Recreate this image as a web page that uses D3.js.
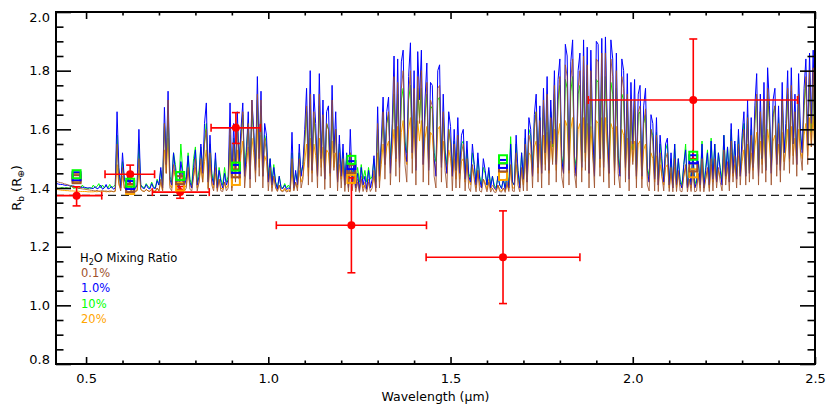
<!DOCTYPE html>
<html>
<head>
<meta charset="utf-8">
<script src="https://cdn.jsdelivr.net/npm/d3@7"></script>
<style>
  html, body { margin: 0; padding: 0; background: #fff; }
  svg { display: block; font-family: "DejaVu Sans", sans-serif; }
</style>
</head>
<body>
<svg id="chart" width="830" height="415"></svg>
<script>
// ---------------- data ----------------
// model spectra sampled on a grid starting at 0.42 µm, step 0.005 µm
const waveStart = 0.42;
const waveStep = 0.005;

const spec01 = [ // 0.1% H2O (brown)
1.422,1.42,1.418,1.417,1.414,1.413,1.41,1.409,1.406,1.405,1.402,1.401,1.399,1.398,1.397,1.396,1.395,1.394,1.393,1.392,
1.391,1.39,1.392,1.389,1.39,1.391,1.389,1.39,1.388,1.39,1.389,1.388,1.39,1.55,1.42,1.39,1.47,1.40,1.395,1.41,
1.395,1.39,1.40,1.388,1.392,1.50,1.395,1.39,1.388,1.395,1.39,1.388,1.395,1.389,1.388,1.40,1.39,1.43,1.39,1.62,
1.45,1.70,1.40,1.39,1.48,1.44,1.395,1.39,1.46,1.42,1.39,1.40,1.47,1.395,1.39,1.44,1.50,1.39,1.42,1.50,
1.42,1.55,1.60,1.395,1.52,1.41,1.39,1.47,1.388,1.43,1.39,1.388,1.42,1.39,1.40,1.60,1.39,1.55,1.42,1.62,
1.43,1.55,1.66,1.40,1.48,1.62,1.40,1.70,1.56,1.42,1.72,1.44,1.70,1.40,1.57,1.52,1.39,1.47,1.388,1.44,
1.40,1.388,1.41,1.39,1.387,1.395,1.386,1.39,1.387,1.50,1.39,1.42,1.39,1.50,1.40,1.43,1.55,1.68,1.41,1.72,
1.42,1.66,1.56,1.40,1.72,1.44,1.65,1.395,1.62,1.60,1.40,1.70,1.46,1.60,1.39,1.52,1.40,1.50,1.388,1.47,
1.387,1.52,1.39,1.44,1.387,1.42,1.385,1.43,1.388,1.41,1.386,1.42,1.388,1.40,1.46,1.387,1.62,1.40,1.52,1.66,
1.43,1.62,1.66,1.41,1.56,1.78,1.44,1.76,1.42,1.74,1.80,1.48,1.42,1.72,1.80,1.45,1.74,1.41,1.78,1.62,
1.80,1.42,1.64,1.76,1.41,1.70,1.68,1.44,1.40,1.74,1.75,1.42,1.66,1.46,1.40,1.60,1.55,1.39,1.55,1.40,
1.58,1.40,1.52,1.55,1.39,1.50,1.40,1.388,1.48,1.43,1.387,1.46,1.39,1.386,1.43,1.41,1.387,1.42,1.386,1.40,
1.386,1.385,1.41,1.388,1.386,1.40,1.385,1.42,1.388,1.48,1.39,1.388,1.52,1.41,1.387,1.47,1.39,1.55,1.39,1.58,
1.55,1.40,1.60,1.66,1.42,1.63,1.40,1.70,1.46,1.72,1.41,1.64,1.48,1.75,1.42,1.70,1.78,1.44,1.40,1.82,
1.78,1.41,1.77,1.84,1.45,1.40,1.74,1.80,1.42,1.85,1.46,1.82,1.40,1.80,1.52,1.40,1.84,1.83,1.44,1.86,
1.42,1.86,1.56,1.40,1.84,1.78,1.41,1.80,1.45,1.40,1.78,1.74,1.42,1.72,1.39,1.70,1.48,1.70,1.40,1.66,
1.68,1.40,1.62,1.67,1.41,1.39,1.60,1.56,1.39,1.58,1.388,1.52,1.44,1.39,1.50,1.52,1.388,1.47,1.387,1.50,
1.388,1.46,1.39,1.387,1.44,1.48,1.387,1.43,1.388,1.47,1.387,1.39,1.45,1.388,1.50,1.387,1.43,1.47,1.388,1.50,
1.39,1.50,1.40,1.47,1.42,1.39,1.53,1.41,1.49,1.39,1.56,1.42,1.51,1.40,1.55,1.41,1.52,1.60,1.41,1.64,
1.42,1.58,1.43,1.62,1.72,1.41,1.66,1.45,1.70,1.42,1.74,1.62,1.41,1.64,1.68,1.44,1.62,1.42,1.70,1.46,
1.55,1.74,1.45,1.75,1.48,1.66,1.44,1.72,1.52,1.46,1.68,1.78,1.48,1.80,1.54,1.81,1.47,1.79,1.52,1.76
];

const spec1 = [ // 1.0% H2O (blue)
1.415,1.413,1.412,1.412,1.41,1.409,1.41,1.407,1.406,1.407,1.405,1.404,1.405,1.403,1.402,1.403,1.401,1.40,1.401,1.399,
1.398,1.405,1.397,1.40,1.41,1.396,1.40,1.412,1.397,1.399,1.406,1.396,1.40,1.66,1.47,1.40,1.52,1.43,1.41,1.44,
1.405,1.40,1.418,1.398,1.41,1.60,1.41,1.40,1.398,1.412,1.40,1.397,1.415,1.40,1.398,1.425,1.41,1.47,1.40,1.675,
1.48,1.73,1.43,1.41,1.52,1.46,1.42,1.40,1.49,1.45,1.41,1.43,1.51,1.42,1.40,1.47,1.53,1.41,1.44,1.55,
1.45,1.62,1.69,1.42,1.58,1.44,1.41,1.52,1.40,1.46,1.42,1.40,1.45,1.41,1.43,1.69,1.42,1.62,1.46,1.66,
1.48,1.60,1.69,1.44,1.52,1.66,1.43,1.70,1.60,1.46,1.78,1.50,1.73,1.44,1.62,1.58,1.42,1.50,1.41,1.47,
1.42,1.396,1.44,1.40,1.398,1.41,1.395,1.40,1.397,1.59,1.40,1.46,1.41,1.55,1.44,1.48,1.60,1.74,1.47,1.80,
1.46,1.72,1.62,1.44,1.79,1.50,1.70,1.43,1.66,1.68,1.45,1.75,1.52,1.66,1.42,1.58,1.44,1.55,1.41,1.52,
1.40,1.60,1.42,1.48,1.40,1.45,1.39,1.47,1.41,1.44,1.395,1.46,1.40,1.43,1.51,1.40,1.677,1.44,1.56,1.71,
1.48,1.66,1.71,1.45,1.62,1.85,1.50,1.84,1.47,1.83,1.87,1.55,1.49,1.78,1.895,1.52,1.80,1.46,1.865,1.70,
1.87,1.48,1.70,1.826,1.46,1.76,1.75,1.50,1.44,1.80,1.82,1.47,1.72,1.52,1.45,1.66,1.61,1.44,1.60,1.46,
1.64,1.45,1.58,1.60,1.43,1.56,1.44,1.42,1.55,1.48,1.41,1.52,1.43,1.40,1.50,1.46,1.41,1.47,1.40,1.44,
1.40,1.395,1.44,1.41,1.398,1.43,1.395,1.45,1.40,1.55,1.42,1.41,1.58,1.46,1.40,1.52,1.43,1.60,1.42,1.64,
1.60,1.44,1.65,1.72,1.47,1.68,1.45,1.74,1.52,1.78,1.46,1.70,1.55,1.80,1.48,1.77,1.84,1.50,1.45,1.89,
1.85,1.46,1.83,1.905,1.50,1.44,1.80,1.86,1.47,1.905,1.52,1.88,1.45,1.87,1.60,1.44,1.90,1.89,1.50,1.91,
1.47,1.915,1.62,1.45,1.905,1.84,1.46,1.86,1.50,1.44,1.84,1.80,1.47,1.79,1.43,1.76,1.55,1.77,1.44,1.72,
1.75,1.44,1.68,1.74,1.46,1.42,1.65,1.62,1.43,1.64,1.41,1.58,1.50,1.42,1.55,1.57,1.41,1.52,1.40,1.55,
1.41,1.50,1.42,1.40,1.48,1.53,1.40,1.47,1.41,1.52,1.40,1.42,1.49,1.41,1.55,1.40,1.46,1.52,1.41,1.56,
1.43,1.55,1.42,1.52,1.46,1.41,1.58,1.44,1.54,1.42,1.62,1.45,1.56,1.43,1.60,1.44,1.58,1.66,1.44,1.70,
1.45,1.64,1.47,1.68,1.79,1.44,1.72,1.50,1.76,1.46,1.81,1.68,1.45,1.70,1.74,1.48,1.68,1.46,1.76,1.52,
1.62,1.80,1.50,1.81,1.55,1.72,1.48,1.79,1.60,1.52,1.74,1.84,1.55,1.86,1.62,1.87,1.54,1.85,1.60,1.82
];

const spec10 = [ // 10% H2O (green)
1.40,1.398,1.40,1.402,1.399,1.401,1.40,1.398,1.41,1.399,1.40,1.402,1.398,1.40,1.41,1.399,1.40,1.398,1.40,1.399,
1.41,1.40,1.405,1.415,1.40,1.41,1.40,1.408,1.40,1.412,1.40,1.405,1.41,1.58,1.45,1.41,1.49,1.43,1.415,1.44,
1.41,1.405,1.42,1.40,1.41,1.55,1.41,1.405,1.40,1.415,1.405,1.40,1.42,1.405,1.40,1.43,1.41,1.46,1.41,1.62,
1.50,1.66,1.44,1.42,1.52,1.48,1.43,1.41,1.55,1.46,1.42,1.44,1.52,1.43,1.41,1.50,1.54,1.42,1.46,1.54,
1.46,1.56,1.62,1.43,1.55,1.45,1.42,1.50,1.41,1.47,1.43,1.41,1.47,1.42,1.44,1.58,1.43,1.57,1.47,1.62,
1.50,1.58,1.65,1.46,1.54,1.62,1.46,1.66,1.58,1.48,1.70,1.52,1.68,1.46,1.58,1.55,1.44,1.50,1.42,1.48,
1.42,1.40,1.44,1.405,1.40,1.415,1.40,1.41,1.40,1.52,1.41,1.45,1.42,1.52,1.45,1.48,1.56,1.66,1.49,1.68,
1.48,1.64,1.58,1.47,1.68,1.52,1.63,1.46,1.62,1.60,1.47,1.66,1.52,1.60,1.45,1.55,1.46,1.52,1.44,1.50,
1.43,1.52,1.44,1.48,1.42,1.47,1.42,1.48,1.43,1.46,1.42,1.47,1.43,1.44,1.50,1.42,1.60,1.46,1.54,1.64,
1.52,1.62,1.65,1.50,1.60,1.72,1.53,1.72,1.51,1.70,1.74,1.56,1.52,1.70,1.75,1.54,1.72,1.50,1.74,1.64,
1.74,1.51,1.65,1.72,1.50,1.68,1.67,1.52,1.49,1.70,1.71,1.51,1.64,1.53,1.48,1.60,1.56,1.46,1.56,1.46,
1.58,1.46,1.55,1.56,1.45,1.53,1.45,1.43,1.52,1.48,1.42,1.50,1.44,1.41,1.47,1.45,1.41,1.46,1.41,1.44,
1.41,1.40,1.44,1.41,1.40,1.43,1.40,1.45,1.41,1.575,1.42,1.41,1.55,1.46,1.41,1.52,1.43,1.57,1.43,1.60,
1.58,1.47,1.62,1.66,1.49,1.64,1.48,1.68,1.52,1.70,1.48,1.66,1.54,1.72,1.49,1.70,1.75,1.51,1.47,1.77,
1.74,1.48,1.73,1.78,1.51,1.47,1.72,1.75,1.49,1.78,1.52,1.76,1.47,1.75,1.56,1.47,1.77,1.76,1.50,1.78,
1.49,1.78,1.60,1.47,1.76,1.72,1.48,1.74,1.51,1.47,1.72,1.70,1.49,1.69,1.46,1.67,1.53,1.68,1.46,1.65,
1.66,1.46,1.62,1.65,1.47,1.44,1.60,1.58,1.44,1.59,1.43,1.55,1.48,1.43,1.53,1.55,1.42,1.50,1.41,1.55,
1.42,1.50,1.43,1.41,1.48,1.55,1.41,1.47,1.42,1.53,1.41,1.43,1.49,1.42,1.56,1.41,1.47,1.53,1.42,1.57,
1.44,1.55,1.43,1.52,1.47,1.43,1.58,1.45,1.54,1.44,1.60,1.46,1.55,1.44,1.58,1.45,1.56,1.62,1.45,1.65,
1.46,1.60,1.48,1.63,1.70,1.46,1.66,1.50,1.68,1.47,1.72,1.64,1.47,1.65,1.68,1.50,1.64,1.48,1.70,1.52,
1.58,1.72,1.52,1.73,1.55,1.66,1.51,1.72,1.57,1.53,1.68,1.76,1.55,1.78,1.59,1.79,1.54,1.77,1.57,1.75
];

const spec20 = [ // 20% H2O (orange)
1.395,1.394,1.393,1.392,1.392,1.391,1.391,1.39,1.39,1.39,1.389,1.389,1.389,1.388,1.388,1.388,1.388,1.387,1.387,1.387,
1.387,1.388,1.387,1.389,1.387,1.388,1.389,1.387,1.388,1.387,1.389,1.387,1.388,1.48,1.41,1.395,1.44,1.40,1.395,1.40,
1.395,1.39,1.40,1.388,1.39,1.46,1.395,1.39,1.388,1.395,1.39,1.389,1.397,1.39,1.389,1.40,1.39,1.42,1.39,1.53,
1.45,1.57,1.41,1.40,1.46,1.44,1.41,1.40,1.45,1.43,1.40,1.41,1.46,1.41,1.40,1.44,1.47,1.40,1.42,1.47,
1.42,1.49,1.53,1.40,1.48,1.42,1.40,1.45,1.395,1.43,1.40,1.395,1.42,1.40,1.41,1.52,1.40,1.50,1.43,1.53,
1.45,1.51,1.56,1.44,1.48,1.54,1.44,1.57,1.52,1.45,1.60,1.47,1.58,1.44,1.51,1.49,1.42,1.46,1.40,1.44,
1.405,1.39,1.41,1.392,1.39,1.40,1.389,1.395,1.39,1.46,1.395,1.42,1.40,1.46,1.42,1.44,1.49,1.55,1.44,1.57,
1.45,1.55,1.51,1.44,1.57,1.47,1.54,1.43,1.53,1.52,1.44,1.56,1.47,1.52,1.42,1.48,1.43,1.47,1.41,1.45,
1.40,1.46,1.41,1.44,1.40,1.43,1.40,1.44,1.40,1.42,1.40,1.43,1.40,1.41,1.44,1.40,1.52,1.42,1.48,1.55,
1.48,1.54,1.56,1.47,1.53,1.60,1.49,1.61,1.48,1.59,1.63,1.51,1.48,1.60,1.64,1.50,1.61,1.47,1.63,1.56,
1.63,1.48,1.57,1.61,1.47,1.59,1.58,1.49,1.46,1.60,1.61,1.48,1.56,1.49,1.45,1.53,1.50,1.44,1.50,1.43,
1.52,1.43,1.49,1.50,1.42,1.48,1.43,1.41,1.47,1.44,1.40,1.46,1.41,1.40,1.43,1.42,1.395,1.43,1.395,1.41,
1.40,1.39,1.41,1.395,1.39,1.40,1.39,1.41,1.395,1.47,1.40,1.40,1.48,1.43,1.40,1.46,1.41,1.50,1.42,1.52,
1.51,1.44,1.54,1.56,1.45,1.55,1.45,1.58,1.48,1.59,1.45,1.56,1.49,1.60,1.46,1.58,1.62,1.48,1.45,1.63,
1.61,1.45,1.60,1.64,1.47,1.44,1.60,1.62,1.46,1.64,1.49,1.62,1.45,1.61,1.51,1.45,1.63,1.62,1.47,1.64,
1.46,1.64,1.54,1.45,1.62,1.60,1.45,1.61,1.48,1.45,1.60,1.58,1.46,1.57,1.44,1.56,1.49,1.56,1.43,1.55,
1.56,1.43,1.53,1.55,1.44,1.42,1.52,1.50,1.42,1.51,1.41,1.48,1.44,1.41,1.47,1.48,1.40,1.45,1.40,1.47,
1.40,1.45,1.41,1.40,1.44,1.47,1.40,1.43,1.40,1.46,1.40,1.41,1.44,1.40,1.48,1.40,1.43,1.46,1.40,1.48,
1.42,1.48,1.42,1.46,1.44,1.42,1.50,1.43,1.47,1.42,1.52,1.44,1.48,1.43,1.51,1.44,1.49,1.53,1.44,1.55,
1.45,1.52,1.46,1.54,1.59,1.45,1.56,1.48,1.58,1.46,1.60,1.55,1.46,1.56,1.58,1.48,1.55,1.46,1.59,1.49,
1.53,1.60,1.49,1.61,1.51,1.57,1.48,1.60,1.53,1.50,1.58,1.62,1.51,1.64,1.54,1.65,1.50,1.64,1.53,1.62
];

// observed band radii
const obsWave   = [0.474, 0.621, 0.758, 0.911, 1.228, 1.644, 2.166];
const obsWaveLo = [0.405, 0.552, 0.682, 0.843, 1.022, 1.433, 1.878];
const obsWaveHi = [0.543, 0.688, 0.838, 0.978, 1.434, 1.855, 2.452];
const obsR      = [1.374, 1.447, 1.386, 1.605, 1.273, 1.164, 1.700];
const obsRLo    = [1.339, 1.414, 1.365, 1.552, 1.111, 1.006, 1.500];
const obsRHi    = [1.404, 1.478, 1.405, 1.657, 1.435, 1.322, 1.908];

// band-integrated model values at the observed wavelengths
const band01 = [1.430, 1.400, 1.427, 1.450, 1.465, 1.470, 1.470];
const band1  = [1.440, 1.410, 1.440, 1.465, 1.478, 1.482, 1.498];
const band10 = [1.447, 1.418, 1.441, 1.473, 1.496, 1.498, 1.510];
const band20 = [1.435, 1.393, 1.405, 1.424, 1.431, 1.441, 1.450];

const flatLine = 1.375;

const xMajor = [0.5, 1.0, 1.5, 2.0, 2.5];
const yMajor = [0.8, 1.0, 1.2, 1.4, 1.6, 1.8, 2.0];

const modelNames  = ["0.1%", "1.0%", "10%", "20%"];
const modelColors = ["#a0522d", "#0000ff", "#00ff00", "#ffa500"];

// ---------------- chart ----------------
const svg = d3.select("#chart");
const L = 56, R = 815, T = 12, B = 364;
const x = d3.scaleLinear().domain([0.4175, 2.5]).range([L, R]);
const y = d3.scaleLinear().domain([0.8, 2.0]).range([B, T]);

svg.append("defs").append("clipPath").attr("id", "clip")
  .append("rect").attr("x", L).attr("y", T).attr("width", R - L).attr("height", B - T);

const plot = svg.append("g").attr("clip-path", "url(#clip)");

const specs = [spec01, spec1, spec10, spec20];
const line = d3.line()
  .x((d, i) => x(waveStart + i * waveStep))
  .y(d => y(d));

// drawing order: orange, green, blue, brown
[3, 2, 1, 0].forEach(k => {
  plot.append("path")
    .datum(specs[k])
    .attr("fill", "none")
    .attr("stroke", modelColors[k])
    .attr("stroke-width", 1)
    .attr("stroke-opacity", k === 0 ? 0.85 : 1)
    .attr("d", line);
});

// dashed flat line
plot.append("line")
  .attr("x1", L).attr("x2", R)
  .attr("y1", y(flatLine)).attr("y2", y(flatLine))
  .attr("stroke", "#222").attr("stroke-width", 1.3)
  .attr("stroke-dasharray", "8,5");

// observations with error bars
const red = "#ff0000";
const obs = obsWave.map((w, i) => ({w, lo: obsWaveLo[i], hi: obsWaveHi[i], r: obsR[i], rlo: obsRLo[i], rhi: obsRHi[i]}));
const eg = plot.append("g").attr("stroke", red).attr("stroke-width", 1.6);
obs.forEach(d => {
  eg.append("line").attr("x1", x(d.lo)).attr("x2", x(d.hi)).attr("y1", y(d.r)).attr("y2", y(d.r));
  eg.append("line").attr("x1", x(d.w)).attr("x2", x(d.w)).attr("y1", y(d.rlo)).attr("y2", y(d.rhi));
  [d.lo, d.hi].forEach(v => eg.append("line").attr("x1", x(v)).attr("x2", x(v)).attr("y1", y(d.r) - 4).attr("y2", y(d.r) + 4));
  [d.rlo, d.rhi].forEach(v => eg.append("line").attr("x1", x(d.w) - 4).attr("x2", x(d.w) + 4).attr("y1", y(v)).attr("y2", y(v)));
});
plot.append("g").selectAll("circle").data(obs).join("circle")
  .attr("cx", d => x(d.w)).attr("cy", d => y(d.r)).attr("r", 4).attr("fill", red);

// band-model squares
const bands = [band01, band1, band10, band20];
[3, 0, 1, 2].forEach(k => {
  plot.append("g").selectAll("rect").data(bands[k]).join("rect")
    .attr("x", (d, i) => x(obsWave[i]) - 4)
    .attr("y", d => y(d) - 4)
    .attr("width", 8).attr("height", 8)
    .attr("fill", "none")
    .attr("stroke", modelColors[k])
    .attr("stroke-width", 2);
});

// ---------------- axes ----------------
const xMinor = d3.range(0.5, 2.5001, 0.1).map(v => +v.toFixed(2)).filter(v => !xMajor.some(m => Math.abs(m - v) < 1e-6));
const yMinor = d3.range(0.8, 2.0001, 0.05).map(v => +v.toFixed(3)).filter(v => !yMajor.some(m => Math.abs(m - v) < 1e-6));

function styleAxis(g) {
  g.select(".domain").remove();
  g.selectAll(".tick line").attr("stroke", "#000").attr("stroke-width", 1.6);
}

svg.append("g").attr("transform", `translate(0,${B})`)
  .call(d3.axisBottom(x).tickValues(xMajor).tickSize(-7).tickFormat(d3.format(".1f")).tickPadding(10))
  .call(styleAxis)
  .call(g => g.selectAll("text").attr("font-size", 13).attr("fill", "#000").attr("font-family", "DejaVu Sans"));
svg.append("g").attr("transform", `translate(0,${B})`)
  .call(d3.axisBottom(x).tickValues(xMinor).tickSize(-3.5).tickFormat(""))
  .call(styleAxis);
svg.append("g").attr("transform", `translate(0,${T})`)
  .call(d3.axisTop(x).tickValues(xMajor).tickSize(-7).tickFormat(""))
  .call(styleAxis);
svg.append("g").attr("transform", `translate(0,${T})`)
  .call(d3.axisTop(x).tickValues(xMinor).tickSize(-3.5).tickFormat(""))
  .call(styleAxis);

svg.append("g").attr("transform", `translate(${L},0)`)
  .call(d3.axisLeft(y).tickValues(yMajor).tickSize(-15).tickFormat(""))
  .call(styleAxis);
svg.append("g").attr("transform", `translate(${L},0)`)
  .call(d3.axisLeft(y).tickValues(yMinor).tickSize(-7.5).tickFormat(""))
  .call(styleAxis);
svg.append("g").attr("transform", `translate(${R},0)`)
  .call(d3.axisRight(y).tickValues(yMajor).tickSize(-15).tickFormat(""))
  .call(styleAxis);
svg.append("g").attr("transform", `translate(${R},0)`)
  .call(d3.axisRight(y).tickValues(yMinor).tickSize(-7.5).tickFormat(""))
  .call(styleAxis);

// y tick labels (kept inside the axis range, as in the original)
svg.append("g").selectAll("text").data(yMajor).join("text")
  .attr("x", 50)
  .attr("y", d => Math.min(B - 5, Math.max(T + 5, y(d))))
  .attr("dy", "0.36em")
  .attr("text-anchor", "end")
  .attr("font-size", 13)
  .text(d => d3.format(".1f")(d));

// frame
svg.append("rect").attr("x", L).attr("y", T).attr("width", R - L).attr("height", B - T)
  .attr("fill", "none").attr("stroke", "#000").attr("stroke-width", 2);

// axis titles
svg.append("text").attr("x", (L + R) / 2).attr("y", 401).attr("text-anchor", "middle")
  .attr("font-size", 12.5).text("Wavelength (μm)");

const yt = svg.append("text").attr("transform", `translate(21,${(T + B) / 2}) rotate(-90)`)
  .attr("text-anchor", "middle").attr("font-size", 13);
yt.append("tspan").text("R");
yt.append("tspan").attr("font-size", 9).attr("dy", 3).text("b");
yt.append("tspan").attr("dy", -3).text(" (R");
yt.append("tspan").attr("font-size", 9).attr("dy", 3).text("⊕");
yt.append("tspan").attr("dy", -3).text(")");

// legend
const lg = svg.append("g").attr("font-size", 11.5);
const lt = lg.append("text").attr("x", 80).attr("y", 262).attr("fill", "#000");
lt.append("tspan").text("H");
lt.append("tspan").attr("font-size", 8).attr("dy", 3).text("2");
lt.append("tspan").attr("dy", -3).text("O Mixing Ratio");
lg.selectAll("text.m").data(modelNames).join("text").attr("class", "m")
  .attr("x", 81).attr("y", (d, i) => 277 + i * 15.3)
  .attr("fill", (d, i) => modelColors[i])
  .text(d => d);
</script>
</body>
</html>
